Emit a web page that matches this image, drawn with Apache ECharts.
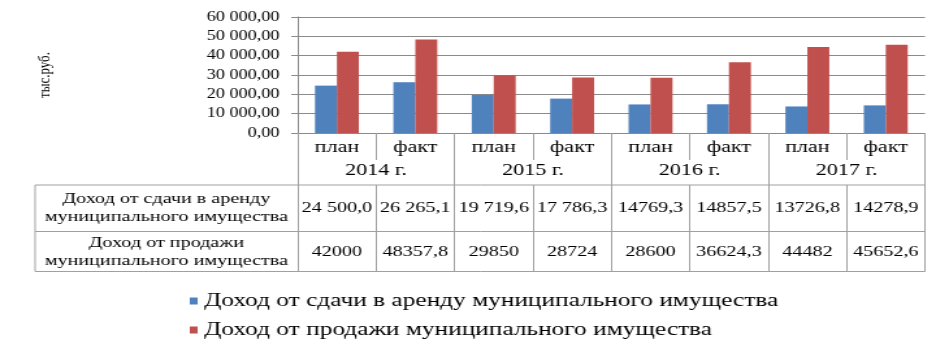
<!DOCTYPE html>
<html>
<head>
<meta charset="utf-8">
<script src="https://cdn.jsdelivr.net/npm/echarts@6/dist/echarts.min.js"></script>
<style>
    html, body { margin: 0; padding: 0; background: #fff; overflow: hidden; }
    /* the source picture is stretched sideways, so the chart is drawn narrow and scaled */
    #chart { width: 730px; height: 349px; transform: scaleX(1.3); transform-origin: 0 0; }
</style>
</head>
<body>
<div id="chart"></div>
<script>
const periods = ['план', 'факт', 'план', 'факт', 'план', 'факт', 'план', 'факт'];
const years = ['2014 г.', '2015 г.', '2016 г.', '2017 г.'];
const rentValues = [24500.0, 26265.1, 19719.6, 17786.3, 14769.3, 14857.5, 13726.8, 14278.9];
const saleValues = [42000, 48357.8, 29850, 28724, 28600, 36624.3, 44482, 45652.6];
const rentLabels = ['24 500,0', '26 265,1', '19 719,6', '17 786,3', '14769,3', '14857,5', '13726,8', '14278,9'];
const saleLabels = ['42000', '48357,8', '29850', '28724', '28600', '36624,3', '44482', '45652,6'];
const seriesNames = ['Доход от сдачи в аренду муниципального имущества', 'Доход от продажи муниципального имущества'];
const rowHeaders = ['Доход от сдачи в аренду\nмуниципального имущества', 'Доход от продажи\nмуниципального имущества'];
const unitName = 'тыс.руб.';

const font = 'Liberation Serif, DejaVu Serif, serif';
const gridColor = '#8a8a8a';
const tableColor = '#a0a0a0';

// table geometry (unscaled px)
const tableLeft = 27;
const gridLeft = 229;
const gridRight = 711.5;
const tableTop = 185;
const rowSplit = 231.5;
const tableBottom = 271.5;

let yFormatter = function (value) {
    return Math.round(value).toString().replace(/\B(?=(\d{3})+(?!\d))/g, ' ') + ',00';
};

const labelBase = { color: '#000', fontFamily: font, interval: 0, verticalAlign: 'middle' };

const chart = echarts.init(document.getElementById('chart'));
chart.setOption({
    animation: false,
    textStyle: { fontFamily: font, color: '#000' },
    grid: { left: gridLeft, right: 730 - gridRight, top: 17, bottom: 216, containLabel: false },
    legend: {
        orient: 'vertical',
        left: 141,
        top: 286,
        itemWidth: 6,
        itemHeight: 7,
        itemGap: 9,
        icon: 'rect',
        textStyle: { fontFamily: font, fontSize: 19.5, color: '#000' },
        data: seriesNames
    },
    xAxis: [
        {
            type: 'category',
            data: periods,
            axisLine: { show: true, lineStyle: { color: gridColor } },
            axisTick: { show: true, length: 27, interval: 0, lineStyle: { color: tableColor } },
            axisLabel: Object.assign({}, labelBase, { margin: 15, fontSize: 17 })
        },
        {
            type: 'category',
            data: years,
            position: 'bottom',
            axisLine: { show: false },
            axisTick: { show: true, length: tableBottom - 133, interval: 0, lineStyle: { color: tableColor } },
            axisLabel: Object.assign({}, labelBase, { margin: 38, fontSize: 17 })
        },
        {
            type: 'category',
            data: rentLabels,
            position: 'bottom',
            offset: tableTop - 133,
            axisLine: { show: false },
            axisTick: { show: true, length: tableBottom - tableTop, interval: 0, lineStyle: { color: tableColor } },
            axisLabel: Object.assign({}, labelBase, { margin: 23, fontSize: 15.5 })
        },
        {
            type: 'category',
            data: saleLabels,
            position: 'bottom',
            offset: tableTop - 133,
            axisLine: { show: false },
            axisTick: { show: false },
            axisLabel: Object.assign({}, labelBase, { margin: 66.5, fontSize: 15.5 })
        }
    ],
    yAxis: {
        type: 'value',
        min: 0,
        max: 60000,
        interval: 10000,
        axisLine: { show: true, lineStyle: { color: gridColor } },
        axisTick: { show: true, length: 5, lineStyle: { color: gridColor } },
        axisLabel: { formatter: yFormatter, margin: 14, fontSize: 14, color: '#000', fontFamily: font },
        splitLine: { lineStyle: { color: gridColor } }
    },
    series: [
        {
            name: seriesNames[0],
            type: 'bar',
            data: rentValues,
            barGap: '0%',
            barCategoryGap: '44%',
            itemStyle: { color: '#4F81BD' }
        },
        {
            name: seriesNames[1],
            type: 'bar',
            data: saleValues,
            itemStyle: { color: '#C0504D' }
        }
    ],
    graphic: [
        { type: 'line', shape: { x1: tableLeft, y1: tableTop, x2: gridRight, y2: tableTop }, style: { stroke: tableColor } },
        { type: 'line', shape: { x1: tableLeft, y1: rowSplit, x2: gridRight, y2: rowSplit }, style: { stroke: tableColor } },
        { type: 'line', shape: { x1: tableLeft, y1: tableBottom, x2: gridRight, y2: tableBottom }, style: { stroke: tableColor } },
        { type: 'line', shape: { x1: tableLeft, y1: tableTop, x2: tableLeft, y2: tableBottom }, style: { stroke: tableColor } },
        {
            type: 'text',
            x: 35,
            y: 75,
            rotation: Math.PI / 2,
            style: { text: unitName, font: '13px ' + font, fill: '#000', align: 'center', verticalAlign: 'middle' }
        },
        {
            type: 'text',
            x: (tableLeft + gridLeft) / 2,
            y: (tableTop + rowSplit) / 2,
            style: { text: rowHeaders[0], font: '15.5px ' + font, fill: '#000', align: 'center', verticalAlign: 'middle', lineHeight: 18 }
        },
        {
            type: 'text',
            x: (tableLeft + gridLeft) / 2,
            y: (rowSplit + tableBottom) / 2,
            style: { text: rowHeaders[1], font: '15.5px ' + font, fill: '#000', align: 'center', verticalAlign: 'middle', lineHeight: 18 }
        }
    ]
});
</script>
</body>
</html>
